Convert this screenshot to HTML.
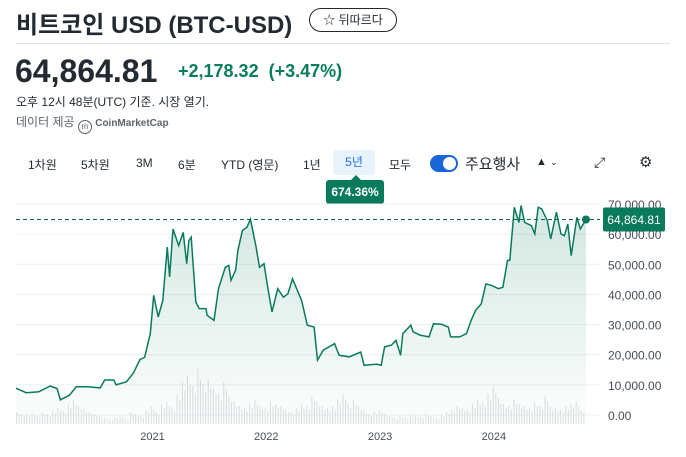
<!DOCTYPE html>
<html><head><meta charset="utf-8"><style>
body{margin:0;width:686px;height:457px;background:#fff;font-family:"Liberation Sans","Noto Sans CJK KR",sans-serif;color:#232a31;position:relative;overflow:hidden}
.a{position:absolute;white-space:nowrap}
.tb{font-size:12px;color:#232a31;top:156px}
</style></head><body>
<div class="a" style="left:16px;top:5px;font-size:24px;font-weight:bold">비트코인 USD (BTC-USD)</div>
<div class="a" style="left:309px;top:8px;width:86px;height:22px;border:1px solid #232a31;border-radius:12px;font-size:12px;line-height:22px;text-align:center">☆ 뒤따르다</div>
<div class="a" style="left:16px;top:43px;width:654px;height:1px;background:#e0e3e6"></div>
<div class="a" style="left:15px;top:53px;font-size:32px;font-weight:bold">64,864.81</div>
<div class="a" style="left:178px;top:61px;font-size:18px;font-weight:bold;color:#0a7d5e">+2,178.32 &nbsp;(+3.47%)</div>
<div class="a" style="left:16px;top:93px;font-size:12px">오후 12시 48분(UTC) 기준. 시장 열기.</div>
<div class="a" style="left:16px;top:113px;font-size:12px;color:#5b636a">데이터 제공 <span style="display:inline-block;width:12px;height:12px;border:1.5px solid #5b636a;border-radius:50%;vertical-align:-3px;font-size:8px;text-align:center;line-height:12px">m</span> <b style="font-size:10px">CoinMarketCap</b></div>

<div class="a tb" style="left:28px">1차원</div>
<div class="a tb" style="left:81px">5차원</div>
<div class="a tb" style="left:136px">3M</div>
<div class="a tb" style="left:178px">6분</div>
<div class="a tb" style="left:221px">YTD (영문)</div>
<div class="a tb" style="left:303px">1년</div>
<div class="a tb" style="left:333px;top:150px;width:42px;height:25px;line-height:25px;text-align:center;background:#e8f2fd;border-radius:4px;color:#1a73e8">5년</div>
<div class="a tb" style="left:389px">모두</div>
<div class="a" style="left:430px;top:155px;width:28px;height:17px;background:#1a66d9;border-radius:9px"><div style="position:absolute;right:2px;top:2px;width:13px;height:13px;border-radius:50%;background:#fff"></div></div>
<div class="a" style="left:465px;top:153px;font-size:15px">주요행사</div>
<div class="a" style="left:536px;top:156px;font-size:11px">▲ <span style="font-size:9px">⌄</span></div>
<div class="a" style="left:594px;top:154px;font-size:14px">⤢</div>
<div class="a" style="left:639px;top:153px;font-size:15px">⚙</div>
<div class="a" style="left:326px;top:180px;width:58px;height:24px;background:#0a7a5c;border-radius:3px;color:#fff;font-size:12px;font-weight:bold;line-height:24px;text-align:center">674.36%</div>
<div class="a" style="left:351px;top:175px;width:0;height:0;border-left:5px solid transparent;border-right:5px solid transparent;border-bottom:5px solid #0a7a5c"></div>

<svg class="a" style="left:0;top:0" width="686" height="457">
<defs><linearGradient id="g" x1="0" y1="0" x2="0" y2="1"><stop offset="0" stop-color="#0a7a5c" stop-opacity="0.18"/><stop offset="1" stop-color="#0a7a5c" stop-opacity="0.01"/></linearGradient></defs>
<g id="grid"></g><g id="vol"></g><path id="area" fill="url(#g)"/><path id="line" fill="none" stroke="#0a7a5c" stroke-width="1.5"/>
<g id="labels"></g>
</svg>
<script>
const years=[2019.80,2019.89,2020.0,2020.10,2020.16,2020.19,2020.27,2020.33,2020.43,2020.54,2020.58,2020.66,2020.68,2020.77,2020.83,2020.89,2020.93,2020.98,2021.01,2021.05,2021.09,2021.13,2021.15,2021.18,2021.23,2021.27,2021.30,2021.32,2021.34,2021.38,2021.41,2021.47,2021.48,2021.54,2021.58,2021.64,2021.67,2021.69,2021.73,2021.75,2021.79,2021.83,2021.86,2021.91,2021.94,2021.98,2022.01,2022.05,2022.10,2022.15,2022.19,2022.23,2022.31,2022.36,2022.42,2022.45,2022.50,2022.60,2022.64,2022.73,2022.83,2022.86,2022.97,2023.01,2023.04,2023.10,2023.14,2023.18,2023.20,2023.27,2023.29,2023.35,2023.43,2023.47,2023.54,2023.60,2023.62,2023.70,2023.76,2023.80,2023.84,2023.89,2023.93,2023.98,2024.04,2024.08,2024.12,2024.14,2024.18,2024.22,2024.24,2024.27,2024.33,2024.36,2024.39,2024.42,2024.47,2024.50,2024.55,2024.59,2024.62,2024.65,2024.68,2024.73,2024.76,2024.81];
const prices=[8900,7400,7700,9600,8800,5000,6600,9400,9400,9000,11600,11600,10000,11000,13800,18400,19100,27000,39700,32500,38000,55700,45800,61700,56200,60600,50200,57900,59000,37500,35300,35300,33100,31400,41900,49000,49600,44700,48000,54600,61200,62300,65000,55700,49000,50200,43000,34200,41900,39100,40200,45200,38000,29800,29200,18200,21500,23700,19800,19300,20900,16500,16900,16500,22600,23200,24800,19800,27000,29800,27600,26500,25900,30300,30100,29200,25900,25900,27000,31400,34700,36900,43500,43000,41900,42400,51300,51300,68900,63900,69500,63900,62800,60100,68900,68400,64500,58400,67300,60100,59500,63400,52900,65600,61700,64864.81];
const volumes=[12,10,9,11,8,12,10,14,16,13,20,24,18,15,12,10,8,6,5,7,9,6,12,10,8,14,18,12,20,22,16,30,42,48,38,55,40,44,36,30,42,28,22,18,16,20,24,18,16,22,20,18,14,12,16,20,18,28,22,18,16,18,24,30,20,24,18,14,10,12,14,10,8,6,8,7,9,8,7,10,8,6,9,12,14,18,16,14,20,24,22,30,38,26,20,18,24,20,18,16,22,18,28,18,16,14,18,20,22,14];
const yTicks=[0,10000,20000,30000,40000,50000,60000,70000];
const xTicks=[2021,2022,2023,2024];
const x0=2019.8,x1=2024.81,px0=16,px1=586;
const X=v=>px0+(v-x0)/(x1-x0)*(px1-px0);
const Y=v=>415-v*0.003014;
const ns="http://www.w3.org/2000/svg";
function mk(t,a,p){const e=document.createElementNS(ns,t);for(const k in a)e.setAttribute(k,a[k]);p.appendChild(e);return e;}
const grid=document.getElementById('grid'),lab=document.getElementById('labels'),vol=document.getElementById('vol');
yTicks.forEach(v=>{
 const l=mk('line',{x1:16,x2:600,y1:Y(v),y2:Y(v),stroke:'#eceff1','stroke-width':1},grid);
 
 
 const t=mk('text',{x:608,y:Y(v)+5,'font-size':12,fill:'#464e56'},lab);t.textContent=v.toLocaleString('en-US',{minimumFractionDigits:2});
 
 
});
xTicks.forEach(v=>{
 const t=mk('text',{x:X(v),y:440,'font-size':11,fill:'#464e56','text-anchor':'middle'},lab);t.textContent=v;
 
 
});
const vw=(px1-px0)/volumes.length;
volumes.forEach((v,i)=>{
 const b=mk('rect',{x:px0+i*vw,y:424-v,width:1,height:v,fill:'#dcdfe2'},vol);
 
 
 const b2=mk('rect',{x:px0+i*vw+2.6,y:424-v*0.8,width:1,height:v*0.8,fill:'#dcdfe2'},vol);
 
 
});
let d='';years.forEach((y,i)=>{d+=(i?'L':'M')+X(y).toFixed(1)+','+Y(prices[i]).toFixed(1);});
document.getElementById('line').setAttribute('d',d);
document.getElementById('line');
document.getElementById('area').setAttribute('d',d+'L'+X(years[years.length-1])+',424L'+X(years[0])+',424Z');
document.getElementById('area');
const last=prices[prices.length-1];
const dl=mk('line',{x1:16,x2:600,y1:Y(last),y2:Y(last),stroke:'#0a6a50','stroke-dasharray':'4,3','stroke-width':1},lab);


const dot=mk('circle',{cx:X(years[years.length-1]),cy:Y(last),r:4,fill:'#0a7a5c'},lab);


const bx=mk('rect',{x:603,y:Y(last)-12,width:62,height:24,rx:2,fill:'#0a7a5c'},lab);


const bt=mk('text',{x:634,y:Y(last)+4.5,'font-size':12,fill:'#fff','text-anchor':'middle'},lab);bt.textContent=last.toLocaleString('en-US',{minimumFractionDigits:2});


</script>
</body></html>
